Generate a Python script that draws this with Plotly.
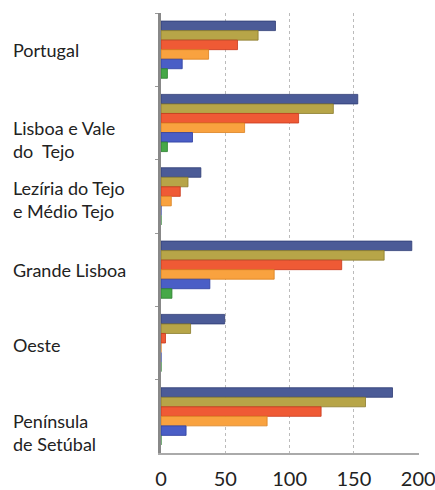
import plotly.graph_objects as go

categories = ["Portugal", "Lisboa e Vale do  Tejo", "Lezíria do Tejo e Médio Tejo",
              "Grande Lisboa", "Oeste", "Península de Setúbal"]
label_text = ["Portugal", "Lisboa e Vale<br>do  Tejo", "Lezíria do Tejo<br>e Médio Tejo",
              "Grande Lisboa", "Oeste", "Península<br>de Setúbal"]

s1 = [89, 153, 31, 195, 49.5, 180]
s2 = [75.5, 134, 21, 173.5, 23, 159]
s3 = [59.5, 107, 15, 140.5, 3.5, 124.5]
s4 = [37, 65, 8, 88, 0, 82.5]
s5 = [16.5, 24.5, 0, 38, 0, 19.5]
s6 = [5, 5, 0, 8.5, 0, 0]

x_ticks = [0, 50, 100, 150, 200]

series = [s1, s2, s3, s4, s5, s6]
colors = ["#4b5b97", "#b7a548", "#ef5a35", "#f9a23f", "#4a5ec6", "#46a848"]
line_colors = ["#2f3c75", "#8a7b2c", "#c8381c", "#d98020", "#2e3fa0", "#2c8030"]

fig = go.Figure()
for vals, c, lc in zip(series, colors, line_colors):
    fig.add_trace(go.Bar(y=categories, x=vals, orientation="h",
                         marker=dict(color=c, line=dict(color=lc, width=0.8)),
                         showlegend=False, hoverinfo="skip"))

label_shift = [0, -16, -3, 0, -2, -16]
for cat, txt, sh in zip(categories, label_text, label_shift):
    fig.add_annotation(x=0, xref="paper", y=cat, yref="y", text=txt,
                       xanchor="left", yanchor="middle", align="left",
                       xshift=-150, yshift=sh, showarrow=False,
                       font=dict(family="Lato, sans-serif", size=18, color="#222"))

fig.update_layout(
    width=435, height=490,
    margin=dict(l=161, r=16, t=13, b=37),
    paper_bgcolor="white", plot_bgcolor="white",
    barmode="group", bargap=0.22, bargroupgap=0,
    xaxis=dict(range=[0, 200.6], tickvals=x_ticks, ticktext=[str(v) for v in x_ticks],
               showgrid=True, gridcolor="#bbbbbb", griddash="dot", gridwidth=1,
               zeroline=False, showline=True, linecolor="#aaaaaa", linewidth=2,
               ticks="", ticklabeloverflow="allow", automargin=False,
               ticklabelstandoff=7,
               tickfont=dict(family="Lato, sans-serif", size=20, color="#222")),
    yaxis=dict(autorange="reversed", showticklabels=False, showgrid=False,
               showline=True, linecolor="#888888", linewidth=3, ticks="outside",
               tickson="boundaries", ticklen=3, tickcolor="#999", zeroline=False,
               automargin=False),
)

fig.write_html("out.html", config={"displayModeBar": False},
               post_script="document.body.style.margin='0';")
